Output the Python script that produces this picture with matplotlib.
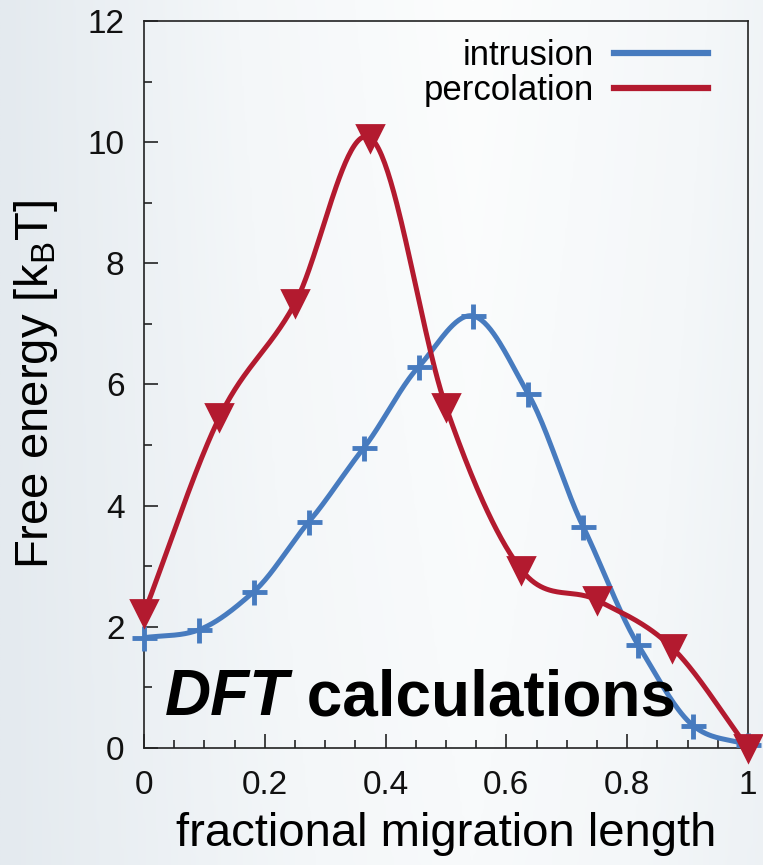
import numpy as np
import matplotlib
matplotlib.use("Agg")
import matplotlib.pyplot as plt
from matplotlib.lines import Line2D
from matplotlib.colors import LinearSegmentedColormap

# ---- data ----
intrusion_x = [0.0, 1/11, 2/11, 3/11, 4/11, 5/11, 6/11, 7/11, 8/11, 9/11, 10/11, 1.0]
intrusion_y = [1.82, 1.95, 2.58, 3.73, 4.95, 6.29, 7.13, 5.84, 3.65, 1.70, 0.37, 0.05]
percolation_x = [0.0, 0.125, 0.25, 0.375, 0.5, 0.625, 0.75, 0.875, 1.0]
percolation_y = [2.22, 5.46, 7.34, 10.07, 5.63, 2.94, 2.44, 1.65, 0.0]
series_labels = ["intrusion", "percolation"]
x_ticks = [0, 0.2, 0.4, 0.6, 0.8, 1]
x_ticklabels = ["0", "0.2", "0.4", "0.6", "0.8", "1"]
y_ticks = [0, 2, 4, 6, 8, 10, 12]
annotation_italic = "DFT"
annotation_rest = " calculations"

BLUE = "#477bbf"
RED = "#b31a2f"


def cardinal(x, y, tension=0.0, n=400):
    """Cardinal (Catmull-Rom type) Hermite curve through the given points."""
    x = np.asarray(x, float)
    y = np.asarray(y, float)
    m = len(x)
    h = np.diff(x)
    d = np.zeros(m)
    for k in range(1, m - 1):
        d[k] = (1 - tension) * (y[k + 1] - y[k - 1]) / (x[k + 1] - x[k - 1])
    d[0] = (y[1] - y[0]) / h[0]
    d[-1] = (y[-1] - y[-2]) / h[-1]
    xs = np.linspace(x[0], x[-1], n)
    idx = np.clip(np.searchsorted(x, xs) - 1, 0, m - 2)
    t = (xs - x[idx]) / h[idx]
    h00 = 2 * t**3 - 3 * t**2 + 1
    h10 = t**3 - 2 * t**2 + t
    h01 = -2 * t**3 + 3 * t**2
    h11 = t**3 - t**2
    ys = h00 * y[idx] + h10 * h[idx] * d[idx] + h01 * y[idx + 1] + h11 * h[idx] * d[idx + 1]
    return xs, ys


plt.rcParams['font.family'] = ['Liberation Sans', 'DejaVu Sans']
plt.rcParams['mathtext.fontset'] = 'custom'
plt.rcParams['mathtext.rm'] = 'Liberation Sans'

fig = plt.figure(figsize=(7.63, 8.65), dpi=100)

# background gradient
bg = fig.add_axes([0, 0, 1, 1], zorder=-10)
gx = np.linspace(0, 1, 300)
gy = np.linspace(0, 1, 300)
GX, GY = np.meshgrid(gx, gy)
val = np.clip(1 - np.abs(GX - 0.62) / 0.62, 0, 1) * (1 - 0.25 * GY)
cmap = LinearSegmentedColormap.from_list("bgc", ["#e4eaef", "#f4f7f9", "#fcfdfd"])
bg.imshow(val, cmap=cmap, aspect='auto', extent=[0, 1, 0, 1], origin='upper', vmin=0, vmax=1)
bg.axis('off')

ax = fig.add_axes([0.1887, 0.1353, 0.7916, 0.8404])
ax.set_facecolor('none')

xs, ys = cardinal(intrusion_x, intrusion_y, tension=0.1)
ax.plot(xs, ys, color=BLUE, lw=3.6, solid_capstyle='round', zorder=3)
ax.plot(intrusion_x, intrusion_y, ls='none', marker='+', ms=18, mew=3.5, color=BLUE, zorder=4, clip_on=False)

xs, ys = cardinal(percolation_x, percolation_y, tension=0.0)
ax.plot(xs, ys, color=RED, lw=3.6, solid_capstyle='round', zorder=3)
ax.plot(percolation_x, percolation_y, ls='none', marker='v', ms=19, mew=2, color=RED, zorder=5, clip_on=False)

ax.set_xlim(0, 1)
ax.set_ylim(0, 12)
ax.set_xticks(x_ticks)
ax.set_xticklabels(x_ticklabels)
ax.set_xticks(np.arange(0, 1.0001, 0.05), minor=True)
ax.set_yticks(y_ticks)
ax.set_yticklabels([str(v) for v in y_ticks])
ax.set_yticks(np.arange(0, 12.001, 1), minor=True)
ax.tick_params(which='both', direction='in', top=False, right=False, labelsize=24, colors='#111111', width=1.1)
ax.tick_params(which='major', length=10)
ax.tick_params(which='minor', length=5.5)
ax.tick_params(axis='x', pad=16)
ax.tick_params(axis='y', pad=14)
for s in ax.spines.values():
    s.set_linewidth(1.2)
    s.set_color('#222222')

ax.set_xlabel("fractional migration length", fontsize=34, labelpad=8)
ax.set_ylabel(r"Free energy [k$_\mathrm{B}$T]", fontsize=34, labelpad=20)

handles = [Line2D([], [], color=BLUE, lw=4.5), Line2D([], [], color=RED, lw=4.5)]
ax.legend(handles, series_labels, loc='upper right', bbox_to_anchor=(0.934, 0.975),
          frameon=False, markerfirst=False, fontsize=25, handlelength=2.7,
          handletextpad=0.6, labelspacing=0.05, borderpad=0, borderaxespad=0)

t1 = fig.text(165 / 763, 1 - 715 / 865, annotation_italic, fontsize=46,
              fontweight='bold', fontstyle='italic', ha='left', va='baseline',
              zorder=10, color='black')
fig.canvas.draw()
ext = t1.get_window_extent()
fig.text(ext.x1 / fig.bbox.width, 1 - 715 / 865, annotation_rest, fontsize=46,
         fontweight='bold', ha='left', va='baseline', zorder=10, color='black')

fig.savefig("out.png", dpi=100)
